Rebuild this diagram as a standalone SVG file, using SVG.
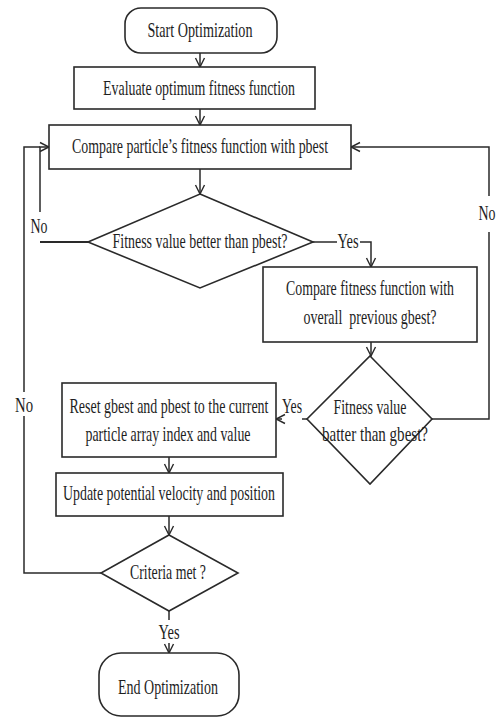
<svg xmlns="http://www.w3.org/2000/svg" width="499" height="718" viewBox="0 0 499 718">
  <style>
    .shape { fill: #ffffff; stroke: #2a2a2a; stroke-width: 1.6; }
    .wire { fill: none; stroke: #2a2a2a; stroke-width: 1.5; }
    .lbl { font-family: "Liberation Serif", "Times New Roman", serif; font-size: 21px; fill: #1e1e1e; text-anchor: middle; }
  </style>
  <defs>
    <marker id="arrow" markerUnits="userSpaceOnUse" markerWidth="12" markerHeight="12" viewBox="0 0 12 12" refX="11" refY="6" orient="auto">
      <path d="M2,1.5 L11,6 L2,10.5" fill="none" stroke="#2a2a2a" stroke-width="1.4"/>
    </marker>
  </defs>
  <rect width="499" height="718" fill="#ffffff"/>

  <g id="connectors">
    <!-- main flow -->
    <line class="wire" x1="200" y1="53" x2="200" y2="67" marker-end="url(#arrow)"/>
    <line class="wire" x1="200" y1="109" x2="200" y2="125" marker-end="url(#arrow)"/>
    <line class="wire" x1="200" y1="169" x2="200" y2="194" marker-end="url(#arrow)"/>
    <!-- pbest: Yes -->
    <line class="wire" x1="313" y1="242" x2="337" y2="242"/>
    <polyline class="wire" points="360,242 371,242 371,267" marker-end="url(#arrow)"/>
    <line class="wire" x1="371" y1="342" x2="371" y2="356" marker-end="url(#arrow)"/>
    <!-- pbest: No -->
    <polyline class="wire" points="88,242 40,242" style="stroke-width:2.2"/>
    <polyline class="wire" points="40,212 40,147 49,147" marker-end="url(#arrow)"/>
    <!-- gbest: No -->
    <polyline class="wire" points="432,419 489,419 489,232"/>
    <polyline class="wire" points="489,196 489,147 351,147" marker-end="url(#arrow)"/>
    <!-- gbest: Yes -->
    <line class="wire" x1="307" y1="419" x2="302" y2="419"/>
    <line class="wire" x1="282" y1="419" x2="276" y2="419" marker-end="url(#arrow)"/>
    <line class="wire" x1="169" y1="457" x2="169" y2="473" marker-end="url(#arrow)"/>
    <line class="wire" x1="169" y1="516" x2="169" y2="535" marker-end="url(#arrow)"/>
    <!-- criteria: No -->
    <polyline class="wire" points="101,573 24,573 24,416"/>
    <polyline class="wire" points="24,392 24,147 40,147"/>
    <!-- criteria: Yes -->
    <line class="wire" x1="169" y1="611" x2="169" y2="620"/>
    <line class="wire" x1="169" y1="643" x2="169" y2="653" marker-end="url(#arrow)"/>
  </g>

  <g id="start">
    <rect class="shape" x="125" y="8" width="152" height="45" rx="16"/>
    <text class="lbl" x="200" y="37" textLength="105" lengthAdjust="spacingAndGlyphs">Start Optimization</text>
  </g>

  <g id="evaluate">
    <rect class="shape" x="74" y="67" width="241" height="42"/>
    <text class="lbl" x="199" y="95" textLength="192" lengthAdjust="spacingAndGlyphs">Evaluate optimum fitness function</text>
  </g>

  <g id="compare-pbest">
    <rect class="shape" x="49" y="125" width="302" height="44"/>
    <text class="lbl" x="200" y="153" textLength="256" lengthAdjust="spacingAndGlyphs">Compare particle’s fitness function with pbest</text>
  </g>

  <g id="check-pbest">
    <polygon class="shape" points="200,194 313,242 200,288 88,242"/>
    <text class="lbl" x="200" y="248" textLength="175" lengthAdjust="spacingAndGlyphs">Fitness value better than pbest?</text>
  </g>

  <g id="compare-gbest">
    <rect class="shape" x="263" y="267" width="214" height="75"/>
    <text class="lbl" x="370" y="295" textLength="168" lengthAdjust="spacingAndGlyphs">Compare fitness function with</text>
    <text class="lbl" x="370" y="324" textLength="133" lengthAdjust="spacingAndGlyphs" xml:space="preserve">overall  previous gbest?</text>
  </g>

  <g id="check-gbest">
    <polygon class="shape" points="370,356 432,419 370,484 307,419"/>
    <text class="lbl" x="370" y="414" textLength="73" lengthAdjust="spacingAndGlyphs">Fitness value</text>
    <text class="lbl" x="375" y="441" textLength="106" lengthAdjust="spacingAndGlyphs">batter than gbest?</text>
  </g>

  <g id="reset">
    <rect class="shape" x="62" y="383" width="214" height="74"/>
    <text class="lbl" x="169" y="413" textLength="199" lengthAdjust="spacingAndGlyphs">Reset gbest and pbest to the current</text>
    <text class="lbl" x="168" y="441" textLength="165" lengthAdjust="spacingAndGlyphs">particle array index and value</text>
  </g>

  <g id="update">
    <rect class="shape" x="56" y="473" width="227" height="43"/>
    <text class="lbl" x="169" y="500" textLength="212" lengthAdjust="spacingAndGlyphs">Update potential velocity and position</text>
  </g>

  <g id="check-criteria">
    <polygon class="shape" points="169,535 238,573 169,611 101,573"/>
    <text class="lbl" x="168" y="579" textLength="76" lengthAdjust="spacingAndGlyphs">Criteria met ?</text>
  </g>

  <g id="end">
    <rect class="shape" x="99" y="653" width="140" height="63" rx="22"/>
    <text class="lbl" x="168" y="694" textLength="100" lengthAdjust="spacingAndGlyphs">End Optimization</text>
  </g>

  <g id="branch-labels">
    <text class="lbl" x="348" y="248" textLength="21" lengthAdjust="spacingAndGlyphs">Yes</text>
    <text class="lbl" x="39" y="233" textLength="17" lengthAdjust="spacingAndGlyphs">No</text>
    <text class="lbl" x="487" y="220" textLength="17" lengthAdjust="spacingAndGlyphs">No</text>
    <text class="lbl" x="292" y="413" textLength="20" lengthAdjust="spacingAndGlyphs">Yes</text>
    <text class="lbl" x="24" y="412" textLength="18" lengthAdjust="spacingAndGlyphs">No</text>
    <text class="lbl" x="169" y="639" textLength="21" lengthAdjust="spacingAndGlyphs">Yes</text>
  </g>
</svg>
